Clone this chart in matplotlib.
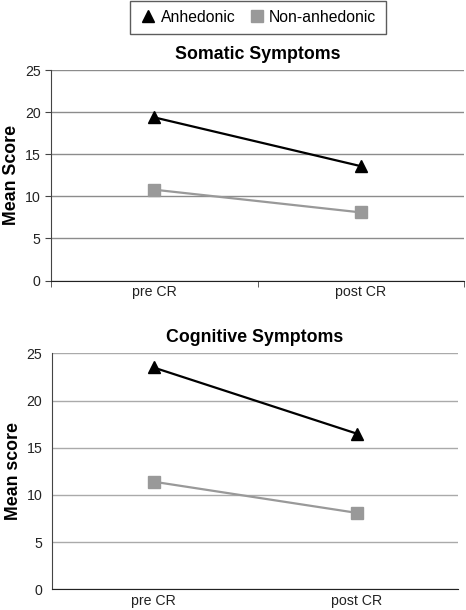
import numpy as np
import matplotlib.pyplot as plt
from matplotlib.lines import Line2D

plt.rcParams['font.family'] = ['Liberation Sans', 'DejaVu Sans']

# data
time_points = ['pre CR', 'post CR']
somatic_anhedonic = [19.4, 13.6]
somatic_non = [10.8, 8.1]
cognitive_anhedonic = [23.5, 16.5]
cognitive_non = [11.4, 8.1]

W, H = 466, 610
fig = plt.figure(figsize=(W / 100, H / 100), dpi=100)

def px_axes(left, right, top, bottom):
    return fig.add_axes([left / W, 1 - bottom / H, (right - left) / W, (bottom - top) / H])

def draw_panel(ax, anh, non, title, ylabel, grid_color, ticks, label_x):
    x = np.arange(len(time_points))
    ax.plot(x, anh, color='black', lw=1.6, marker='^', ms=9, zorder=3)
    ax.plot(x, non, color='#999999', lw=1.6, marker='s', ms=8, zorder=3)
    ax.set_xlim(-0.5, 1.5)
    ax.set_ylim(0, 25)
    ax.set_yticks(np.arange(0, 26, 5))
    ax.set_xticks(x)
    ax.set_xticklabels(time_points)
    ax.grid(axis='y', color=grid_color, lw=1)
    ax.set_axisbelow(True)
    for s in ['top', 'right']:
        ax.spines[s].set_visible(False)
    ax.spines['left'].set_color('#444444')
    ax.spines['bottom'].set_color('#222222')
    ax.tick_params(axis='both', labelsize=10.2, colors='#222222')
    ax.tick_params(axis='x', length=0, pad=3.5)
    if ticks:
        ax.tick_params(axis='y', length=4, color='#444444')
        ax.set_xticks([-0.5, 0.5, 1.5], minor=True)
        ax.tick_params(axis='x', which='minor', length=4, color='#444444')
    else:
        ax.tick_params(axis='y', length=0, pad=7)
    ax.set_title(title, fontsize=12.8, fontweight='bold', pad=8)
    ax.set_ylabel(ylabel, fontsize=12.8, fontweight='bold', va='center')
    ax.yaxis.set_label_coords(label_x, 0.5)

ax1 = px_axes(51, 464, 70.3, 280.5)
draw_panel(ax1, somatic_anhedonic, somatic_non, 'Somatic Symptoms', 'Mean Score',
           '#8c8c8c', True, -0.095)

ax2 = px_axes(52, 458, 353.3, 589.3)
draw_panel(ax2, cognitive_anhedonic, cognitive_non, 'Cognitive Symptoms', 'Mean score',
           '#aaaaaa', False, -0.096)

handles = [Line2D([], [], color='black', marker='^', ls='none', ms=9),
           Line2D([], [], color='#999999', marker='s', ls='none', ms=8)]
leg = fig.legend(handles, ['Anhedonic', 'Non-anhedonic'], loc='upper center',
                 bbox_to_anchor=(258 / W, 1 - 0.5 / H), ncol=2, fontsize=11.3,
                 frameon=True, fancybox=False, handletextpad=0.25,
                 columnspacing=0.8, borderpad=0.6, handlelength=1.1,
                 borderaxespad=0)
leg.get_frame().set_edgecolor('#333333')
leg.get_frame().set_linewidth(1)

fig.savefig('out.png', dpi=100)
